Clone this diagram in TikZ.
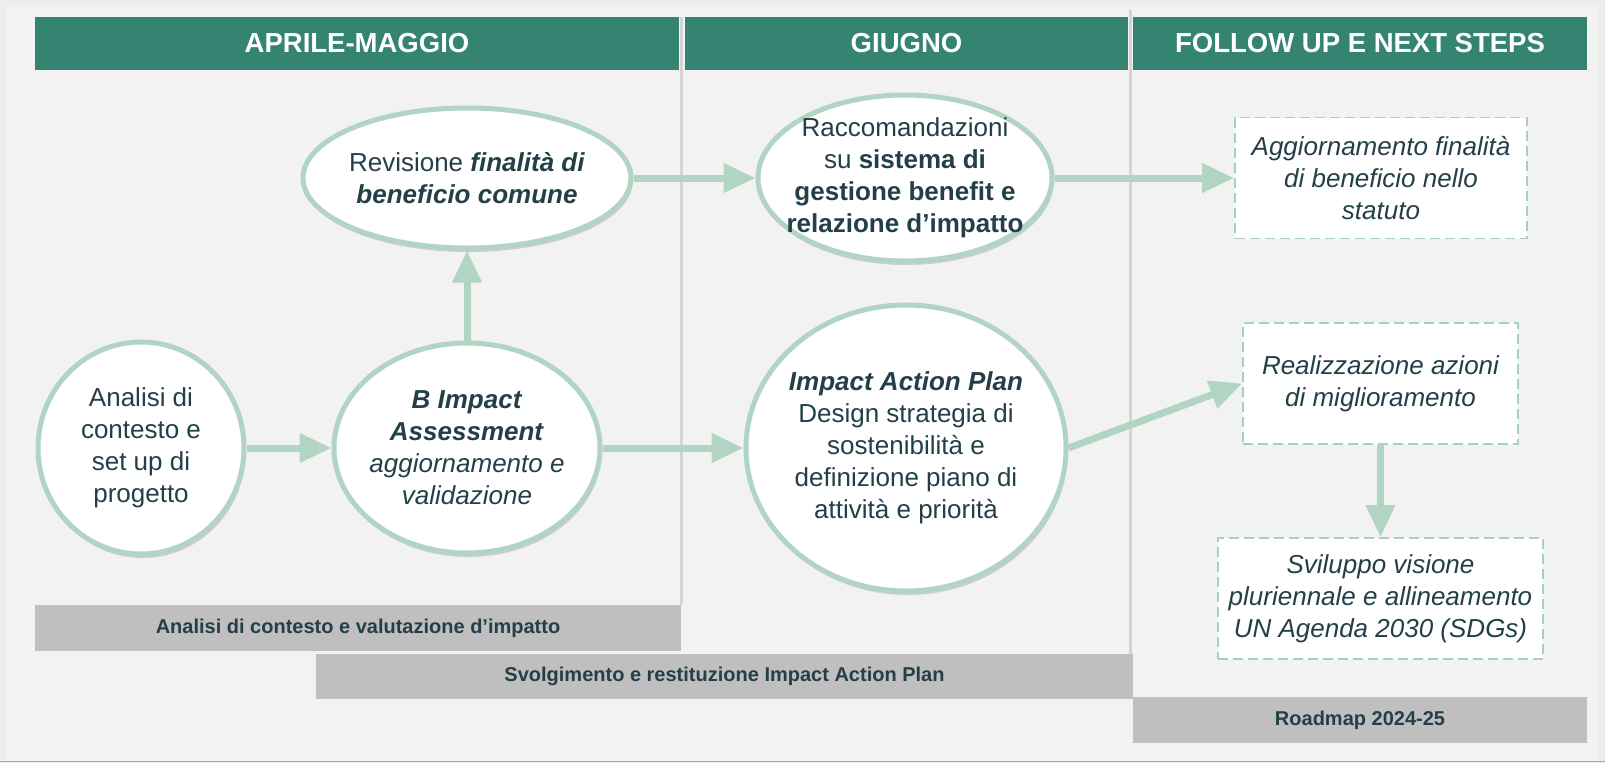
\documentclass[tikz,border=0pt]{standalone}
\usepackage{fontspec}
\setmainfont{Liberation Sans}
\usetikzlibrary{shapes.geometric,arrows.meta,shadows}
\definecolor{hdrgreen}{HTML}{348471}
\definecolor{mint}{HTML}{B2D4C3}
\definecolor{mintd}{HTML}{A9D0BE}
\definecolor{ink}{HTML}{233F48}
\definecolor{barg}{HTML}{BFBFBF}
\definecolor{bgout}{HTML}{EAEFEB}
\definecolor{panel}{HTML}{F2F2F2}
\definecolor{divline}{HTML}{D4D4D4}
\begin{document}
\begin{tikzpicture}[x=1pt,y=-1pt,
  hdr/.style={fill=hdrgreen, text=white, inner sep=0pt, minimum height=53pt,
    font=\fontsize{27.5}{30}\selectfont\bfseries},
  bubble/.style={ellipse, draw=mint, line width=5pt, fill=white, inner sep=0pt,
    drop shadow={shadow xshift=1.5pt, shadow yshift=-4pt, opacity=0.22, fill=black!70}},
  txt/.style={text=ink, align=center, inner sep=0pt, font=\fontsize{26}{32}\selectfont},
  dbox/.style={draw=mintd, dash pattern=on 10pt off 5pt, line width=1.8pt, fill=white,
    inner sep=0pt, minimum height=121pt, text=ink, align=center,
    font=\fontsize{26}{32}\selectfont\itshape},
  flow/.style={draw=mint, line width=7pt, -{Triangle[length=32pt,width=28pt]}},
  bar/.style={fill=barg, text=ink, inner sep=0pt, minimum height=46pt,
    font=\fontsize{20}{24}\selectfont\bfseries},
  divider/.style={draw=divline, line width=3pt}
]
\useasboundingbox (0,0) rectangle (1605,763);
% background
\fill[bgout] (0,0) rectangle (1605,763);
\fill[panel] (6,5) rectangle (1598,762);
\draw[gray!70, line width=1.5pt] (0,761.5) -- (1605,761.5);

% column dividers
\coordinate (d1t) at (681,17);
\coordinate (d1b) at (681,605);
\coordinate (d2t) at (1130,10);
\coordinate (d2b) at (1130,654);
\draw[divider] (d1t) -- (d1b);
\draw[divider] (d2t) -- (d2b);

% headers
\node[hdr, minimum width=644pt] (h1) at (357,43.5) {APRILE-MAGGIO};
\node[hdr, minimum width=443pt] (h2) at (906.5,43.5) {GIUGNO};
\node[hdr, minimum width=454pt] (h3) at (1360,43.5) {FOLLOW UP E NEXT STEPS};

% bottom bars
\node[bar, minimum width=646pt] (g1) at (358,628) {Analisi di contesto e valutazione d’impatto};
\node[bar, minimum width=817pt, minimum height=45pt] (g2) at (724.5,676.5) {Svolgimento e restituzione Impact Action Plan};
\node[bar, minimum width=454pt] (g3) at (1360,720) {Roadmap 2024-25};

% ellipses
\node[bubble, minimum width=206pt, minimum height=212pt] (e1) at (141,448) {};
\node[txt] (e1t) at (e1.center) {Analisi di\\contesto e\\set up di\\progetto};

\node[bubble, minimum width=266pt, minimum height=210pt] (e2) at (467,448) {};
\node[txt] (e2t) at (e2.center) {\textbf{\textit{B Impact}}\\\textbf{\textit{Assessment}}\\\textit{aggiornamento e}\\\textit{validazione}};

\node[bubble, minimum width=328pt, minimum height=140pt] (e3) at (467,178) {};
\node[txt] (e3t) at (e3.center) {Revisione \textbf{\textit{finalità di}}\\\textbf{\textit{beneficio comune}}};

\node[bubble, minimum width=294pt, minimum height=166pt] (e4) at (905,178) {};
\node[txt] (e4t) at (e4.center) {Raccomandazioni\\su \textbf{sistema di}\\\textbf{gestione benefit e}\\\textbf{relazione d’impatto}};

\node[bubble, minimum width=320pt, minimum height=286pt] (e5) at (906,448) {};
\node[txt] (e5t) at (e5.center) {\textbf{\textit{Impact Action Plan}}\\Design strategia di\\sostenibilità e\\definizione piano di\\attività e priorità};

% dashed boxes
\node[dbox, minimum width=292pt] (b1) at (1381,178) {Aggiornamento finalità\\di beneficio nello\\statuto};
\node[dbox, minimum width=275pt] (b2) at (1380.5,383.5) {Realizzazione azioni\\di miglioramento};
\node[dbox, minimum width=325pt] (b3) at (1380.5,598.5) {Sviluppo visione\\pluriennale e allineamento\\UN Agenda 2030 (SDGs)};

% connectors
\draw[flow] (e1.east) -- (e2.west);
\draw[flow] (e2.east) -- (e5.west);
\draw[flow] (e2.north) -- (e3.south);
\draw[flow] (e3.east) -- (e4.west);
\draw[flow] (e4.east) -- (b1.west);
\draw[flow] (e5.east) -- (b2.west);
\draw[flow] (b2.south) -- (b3.north);
\end{tikzpicture}
\end{document}
